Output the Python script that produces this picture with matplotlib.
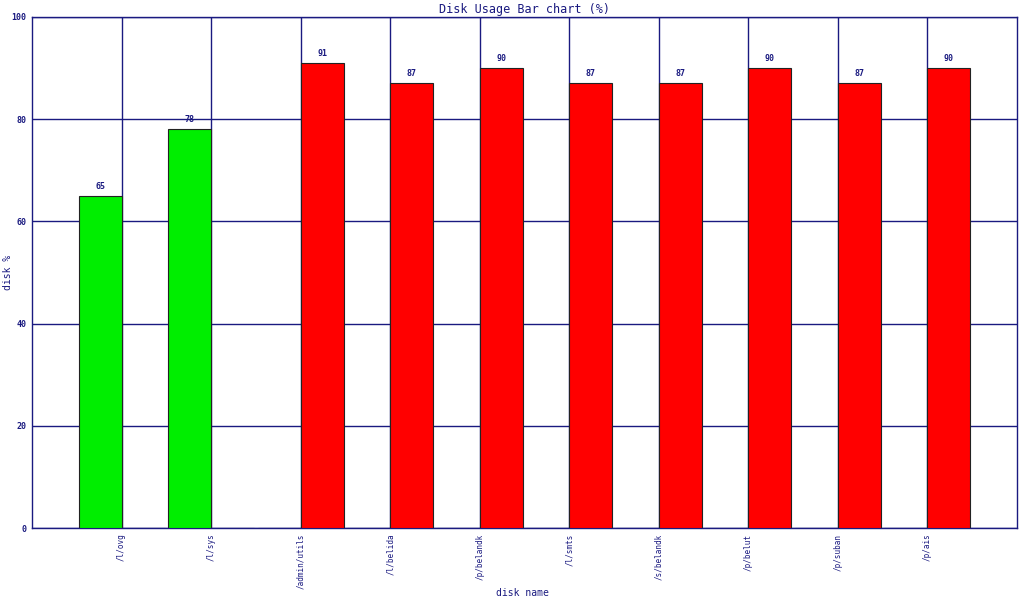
import matplotlib
matplotlib.use("Agg")
import matplotlib.pyplot as plt
import numpy as np

disks = ["/l/ovg", "/l/sys", "/admin/utils", "/l/belida", "/p/belandk",
         "/l/smts", "/s/belandk", "/p/belut", "/p/suban", "/p/ais"]
ok_vals = [65, 78, 0, 0, 0, 0, 0, 0, 0, 0]
high_vals = [0, 0, 91, 87, 90, 87, 87, 90, 87, 90]

navy = "#1a1a80"
W, H = 1024, 598
fig = plt.figure(figsize=(W / 100, H / 100), dpi=100)
ax = fig.add_axes([32 / W, 70 / H, (1017 - 32) / W, (528 - 17) / H])

x = np.arange(len(disks))
w = 0.48
ax.bar(x - w / 2, ok_vals, w, color="#00ee00", edgecolor="#222222", linewidth=0.8, zorder=3)
ax.bar(x + w / 2, high_vals, w, color="#ff0000", edgecolor="#222222", linewidth=0.8, zorder=3)

for i in range(len(disks)):
    if ok_vals[i]:
        ax.text(x[i] - w / 2, ok_vals[i] + 1, str(ok_vals[i]), ha="center", va="bottom",
                fontsize=6, fontweight="bold", color=navy, family="DejaVu Sans Mono")
    if high_vals[i]:
        ax.text(x[i] + w / 2, high_vals[i] + 1, str(high_vals[i]), ha="center", va="bottom",
                fontsize=6, fontweight="bold", color=navy, family="DejaVu Sans Mono")

ax.set_xlim(-1, len(disks))
ax.set_ylim(0, 100)
ax.set_xticks(x)
ax.set_xticklabels(disks, rotation=90, fontsize=5.5, color=navy, family="DejaVu Sans Mono",
                   va="top")
ax.set_yticks(range(0, 101, 20))
ax.set_yticklabels([str(v) for v in range(0, 101, 20)], fontsize=6, fontweight="bold",
                   color=navy, family="DejaVu Sans Mono")
ax.tick_params(length=0, pad=4)
ax.grid(True, color=navy, linewidth=1, zorder=0)
ax.set_axisbelow(True)
for s in ax.spines.values():
    s.set_color(navy)
    s.set_linewidth(1)

ax.set_title("Disk Usage Bar chart (%)", fontsize=8.5, color=navy, family="DejaVu Sans Mono", pad=3)
fig.text(522 / W, 1 - 593 / H, "disk name", ha="center", va="center",
         fontsize=7, color=navy, family="DejaVu Sans Mono")
fig.text(8 / W, 1 - 272 / H, "disk %", ha="center", va="center", rotation=90,
         fontsize=7, color=navy, family="DejaVu Sans Mono")

fig.savefig("out.png", dpi=100)
